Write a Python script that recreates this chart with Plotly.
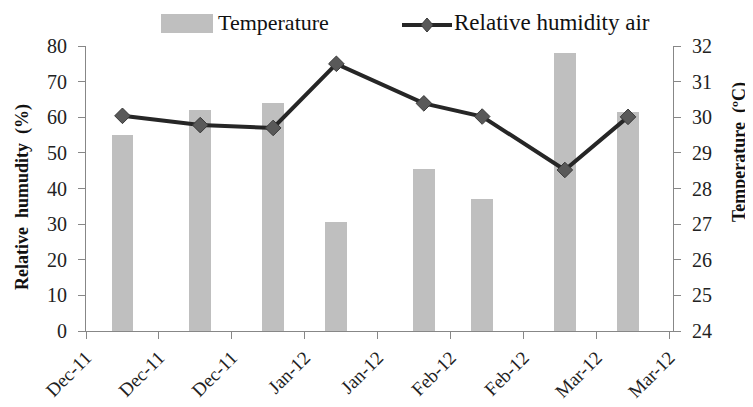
import plotly.graph_objects as go

# ---- data ----
dates = ["2011-12-08 12:00", "2011-12-24 12:00", "2012-01-08 12:00", "2012-01-21 12:00",
         "2012-02-08 12:00", "2012-02-20 12:00", "2012-03-08 12:00", "2012-03-21 12:00"]
temperature = [29.5, 30.2, 30.4, 27.05, 28.55, 27.7, 31.8, 30.15]
humidity = [60.4, 57.8, 57.0, 75.0, 63.9, 60.2, 45.2, 60.1]

temp_range = [24, 32]
hum_range = [0, 80]
x_range = ["2011-12-01 00:00", "2012-03-30 18:00"]
tick_start = "2011-12-01"
tick_step_days = 15

FONT = "Liberation Serif"
AXIS_COL = "#878787"
BAR_COL = "#BFBFBF"
LINE_COL = "#262626"
MARK_COL = "#595959"
DAY_MS = 86400000

OFF = 8  # page body margin of the html page
W, H = 753 - OFF, 407 - OFF
# plot area in window pixels
PLOT_L, PLOT_R, PLOT_T, PLOT_B = 86, 673, 46, 331
ML = PLOT_L - OFF
MR = 753 - PLOT_R
MT = PLOT_T - OFF
MB = 407 - PLOT_B
PW = PLOT_R - PLOT_L
PH = PLOT_B - PLOT_T


def px(x):
    return (x - PLOT_L) / PW


def py(y):
    return (PLOT_B - y) / PH


fig = go.Figure()
fig.add_trace(go.Bar(
    x=dates, y=temperature, name="Temperature",
    marker=dict(color=BAR_COL, line=dict(width=0)),
    width=4.5 * DAY_MS, yaxis="y", showlegend=False,
))
fig.add_trace(go.Scatter(
    x=dates, y=humidity, name="Relative humidity air", mode="lines+markers",
    line=dict(color=LINE_COL, width=4),
    marker=dict(symbol="diamond", size=12, color=MARK_COL, line=dict(color="#3a3a3a", width=1)),
    yaxis="y2", showlegend=False,
))

axis_common = dict(
    showline=True, linecolor=AXIS_COL, linewidth=1, showgrid=False, zeroline=False,
    ticks="outside", ticklen=7, tickcolor=AXIS_COL, automargin=False,
    tickfont=dict(family=FONT, size=20, color="#222"),
)

fig.update_layout(
    width=W, height=H,
    margin=dict(l=ML, r=MR, t=MT, b=MB),
    paper_bgcolor="white", plot_bgcolor="white",
    font=dict(family=FONT),
    bargap=0,
    xaxis=dict(
        type="date", range=x_range, tick0=tick_start, dtick=tick_step_days * DAY_MS,
        tickformat="%b-%y", tickangle=-45,
        **{**axis_common, "tickfont": dict(family=FONT, size=19, color="#222")},
    ),
    yaxis=dict(range=temp_range, dtick=1, side="right", anchor="x",
               ticklabelstandoff=7, **axis_common),
    yaxis2=dict(range=hum_range, dtick=10, side="left", overlaying="y", anchor="x",
                ticklabelstandoff=7, **axis_common),
    showlegend=False,
)

# axis titles
fig.add_annotation(text="<b>Relative  humudity  (%)</b>", textangle=-90,
                   x=px(22), y=py(197), xref="paper", yref="paper", showarrow=False,
                   xanchor="center", yanchor="middle",
                   font=dict(family=FONT, size=18, color="#111"))
fig.add_annotation(text="<b>Temperature  (ºC)</b>", textangle=-90,
                   x=px(739), y=py(152), xref="paper", yref="paper", showarrow=False,
                   xanchor="center", yanchor="middle",
                   font=dict(family=FONT, size=18, color="#111"))

# manual legend
fig.add_shape(type="rect", xref="paper", yref="paper",
              x0=px(161), x1=px(213), y0=py(33), y1=py(14),
              fillcolor=BAR_COL, line=dict(width=0))
fig.add_annotation(text="Temperature", x=px(216), y=py(23), xref="paper", yref="paper",
                   xanchor="left", yanchor="middle", showarrow=False,
                   font=dict(family=FONT, size=22, color="#111"))
fig.add_shape(type="line", xref="paper", yref="paper",
              x0=px(402), x1=px(452), y0=py(25), y1=py(25),
              line=dict(color=LINE_COL, width=4))
cx, cy, hw, hh = 427, 25, 6, 7
fig.add_shape(type="path", xref="paper", yref="paper",
              path=f"M {px(cx-hw)} {py(cy)} L {px(cx)} {py(cy-hh)} L {px(cx+hw)} {py(cy)} L {px(cx)} {py(cy+hh)} Z",
              fillcolor=MARK_COL, line=dict(color="#3a3a3a", width=1))
fig.add_annotation(text="Relative humidity air", x=px(452), y=py(23), xref="paper", yref="paper",
                   xanchor="left", yanchor="middle", showarrow=False,
                   font=dict(family=FONT, size=23, color="#111"))

fig.write_html("out.html")
